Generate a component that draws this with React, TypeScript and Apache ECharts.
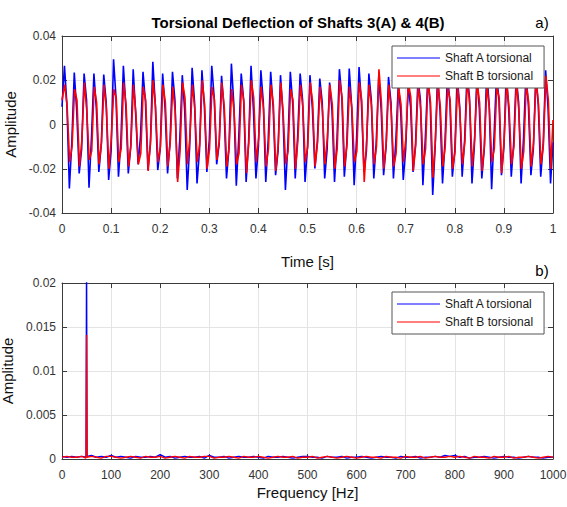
import React, { useEffect, useRef } from "react";
import * as echarts from "echarts";

const FONT = "'Liberation Sans', Arial, Helvetica, sans-serif";

// ---- Top panel: time signals (values read per 50 Hz cycle) ----
const timeStartA = 0.008;
const timeStartB = 0.011;
const peaksA = [0.0265, 0.0235, 0.023, 0.023, 0.0226, 0.0295, 0.0265, 0.025, 0.0238, 0.0283, 0.023, 0.0238, 0.0223,
  0.0256, 0.0245, 0.0265, 0.022, 0.0275, 0.023, 0.0265, 0.0245, 0.0238, 0.0223, 0.0238, 0.023,
  0.0223, 0.0208, 0.019, 0.025, 0.0253, 0.026, 0.023, 0.0215, 0.0215, 0.0185, 0.0177, 0.0208, 0.0215,
  0.0225, 0.023, 0.0215, 0.0235, 0.022, 0.024, 0.0225, 0.023, 0.0215, 0.0235, 0.022, 0.0245];
const downA = [0.009, 0.006, 0.011, 0.007, 0.01, 0.012, 0.008, 0.005, 0.01, 0.009, 0.007, 0.011, 0.006, 0.01, 0.008, 0.012, 0.007,
  0.009, 0.011, 0.006, 0.01, 0.008, 0.005, 0.009, 0.011, 0.007, 0.01, 0.006, 0.012, 0.008, 0.009, 0.011, 0.007, 0.01, 0.005,
  0.008, 0.011, 0.009, 0.006, 0.01, 0.008, 0.012, 0.007, 0.009, 0.011, 0.006, 0.01, 0.008, 0.009, 0.007];
const troughsA = [-0.0289, -0.0221, -0.0286, -0.0214, -0.0251, -0.0236, -0.0221, -0.018, -0.0206, -0.0206, -0.0221, -0.0244,
  -0.0296, -0.0266, -0.0214, -0.018, -0.0244, -0.0277, -0.026, -0.0244, -0.026, -0.0229, -0.0296, -0.0244, -0.026,
  -0.0199, -0.0244, -0.026, -0.0236, -0.0274, -0.0214, -0.0244, -0.0229, -0.0244, -0.0251, -0.0214, -0.0274, -0.0319,
  -0.0266, -0.0236, -0.0236, -0.0266, -0.0244, -0.0292, -0.0229, -0.0236, -0.0266, -0.0229, -0.0236, -0.0266];
const upA = [-0.008, -0.011, -0.006, -0.009, -0.012, -0.007, -0.01, -0.005, -0.009, -0.011, -0.008, -0.006, -0.01, -0.012, -0.007,
  -0.009, -0.011, -0.006, -0.008, -0.01, -0.007, -0.012, -0.009, -0.005, -0.01, -0.008, -0.011, -0.007, -0.009, -0.006, -0.012,
  -0.008, -0.01, -0.007, -0.011, -0.009, -0.006, -0.01, -0.008, -0.012, -0.007, -0.009, -0.011, -0.005, -0.01, -0.008, -0.006,
  -0.011, -0.009, -0.008];

const peaksB = [0.018, 0.016, 0.019, 0.017, 0.018, 0.016, 0.019, 0.018, 0.017, 0.02, 0.018, 0.017, 0.019, 0.018, 0.02, 0.017,
  0.019, 0.016, 0.018, 0.02, 0.017, 0.018, 0.019, 0.016, 0.018, 0.019, 0.017, 0.018, 0.02, 0.017, 0.019, 0.018, 0.025, 0.018,
  0.017, 0.019, 0.018, 0.02, 0.019, 0.017, 0.018, 0.02, 0.019, 0.018, 0.017, 0.019, 0.02, 0.018, 0.021, 0.022];
const downB = [0.008, 0.011, 0.006, 0.01, 0.007, 0.012, 0.009, 0.005, 0.011, 0.008, 0.01, 0.006, 0.012, 0.007, 0.009, 0.011,
  0.008, 0.006, 0.01, 0.012, 0.007, 0.009, 0.005, 0.011, 0.008, 0.01, 0.006, 0.009, 0.012, 0.007, 0.011, 0.008, 0.01, 0.006,
  0.009, 0.012, 0.007, 0.01, 0.008, 0.011, 0.005, 0.009, 0.01, 0.007, 0.012, 0.008, 0.006, 0.01, 0.009, 0.011];
const troughsB = [-0.017, -0.019, -0.016, -0.018, -0.02, -0.017, -0.019, -0.018, -0.021, -0.017, -0.019, -0.026, -0.018, -0.017,
  -0.02, -0.016, -0.019, -0.018, -0.022, -0.017, -0.019, -0.021, -0.018, -0.02, -0.017, -0.019, -0.018, -0.02, -0.019, -0.017,
  -0.026, -0.018, -0.02, -0.019, -0.017, -0.021, -0.018, -0.024, -0.019, -0.02, -0.018, -0.019, -0.021, -0.017, -0.022, -0.018,
  -0.02, -0.019, -0.018, -0.02];
const upB = [-0.01, -0.007, -0.012, -0.008, -0.006, -0.011, -0.009, -0.013, -0.007, -0.01, -0.008, -0.012, -0.006, -0.009, -0.011,
  -0.007, -0.01, -0.013, -0.008, -0.006, -0.011, -0.009, -0.012, -0.007, -0.01, -0.008, -0.006, -0.011, -0.009, -0.012, -0.007,
  -0.01, -0.008, -0.013, -0.006, -0.009, -0.011, -0.007, -0.01, -0.012, -0.008, -0.006, -0.009, -0.011, -0.007, -0.01, -0.012,
  -0.008, -0.009, 0.002];

// ---- Bottom panel: spectrum (0..1000 Hz every 10 Hz, plus 49/51 Hz around the 50 Hz line) ----
const fftA = [0.0003, 0.0002, 0.0003, 0.0002, 0.0003, 0.0002, 0.0232, 0.0003,
  0.0004, 0.0002, 0.0003, 0.0002, 0.0004, 0.0002, 0.0003, 0.0002, 0.0001, 0.0003, 0.0002, 0.0002, 0.0003, 0.0002,
  0.0005, 0.0002, 0.0003, 0.0001, 0.0002, 0.0003, 0.0002, 0.0002, 0.0003, 0.0001,
  0.0004, 0.0002, 0.0002, 0.0003, 0.0001, 0.0002, 0.0003, 0.0002, 0.0002, 0.0003,
  0.0002, 0.0001, 0.0003, 0.0002, 0.0002, 0.0003, 0.0002, 0.0001, 0.0002, 0.0003,
  0.0003, 0.0002, 0.0002, 0.0001, 0.0003, 0.0002, 0.0002, 0.0003, 0.0001, 0.0002,
  0.0002, 0.0003, 0.0002, 0.0001, 0.0002, 0.0003, 0.0002, 0.0002, 0.0001, 0.0003,
  0.0002, 0.0002, 0.0003, 0.0001, 0.0002, 0.0002, 0.0003, 0.0002, 0.0004, 0.0003,
  0.0004, 0.0002, 0.0003, 0.0001, 0.0002, 0.0002, 0.0003, 0.0002, 0.0001, 0.0002,
  0.0003, 0.0002, 0.0002, 0.0001, 0.0002, 0.0003, 0.0002, 0.0002, 0.0001, 0.0002, 0.0002];
const fftB = [0.0002, 0.0003, 0.0002, 0.0002, 0.0003, 0.0001, 0.0141, 0.0002,
  0.0003, 0.0002, 0.0001, 0.0003, 0.0003, 0.0002, 0.0001, 0.0002, 0.0003, 0.0002, 0.0001, 0.0003, 0.0002, 0.0002,
  0.0003, 0.0001, 0.0002, 0.0003, 0.0002, 0.0001, 0.0003, 0.0002, 0.0002, 0.0003,
  0.0003, 0.0001, 0.0002, 0.0002, 0.0003, 0.0002, 0.0001, 0.0003, 0.0002, 0.0002,
  0.0003, 0.0002, 0.0001, 0.0002, 0.0003, 0.0002, 0.0002, 0.0003, 0.0001, 0.0002,
  0.0002, 0.0003, 0.0001, 0.0002, 0.0003, 0.0002, 0.0001, 0.0002, 0.0003, 0.0002,
  0.0001, 0.0002, 0.0003, 0.0002, 0.0002, 0.0001, 0.0003, 0.0002, 0.0002, 0.0001,
  0.0003, 0.0002, 0.0002, 0.0003, 0.0001, 0.0002, 0.0003, 0.0002, 0.0002, 0.0003,
  0.0002, 0.0003, 0.0002, 0.0001, 0.0003, 0.0002, 0.0002, 0.0001, 0.0003, 0.0002,
  0.0002, 0.0003, 0.0001, 0.0002, 0.0002, 0.0003, 0.0002, 0.0001, 0.0002, 0.0003, 0.0002];

const seriesNames = ["Shaft A torsional", "Shaft B torsional"];

function buildTime(start: number, peaks: number[], downs: number[], troughs: number[], ups: number[], shift: number) {
  const pts: number[][] = [[0, start]];
  for (let k = 0; k < peaks.length; k++) {
    const t0 = 0.02 * k + shift;
    pts.push([+(t0 + 0.005).toFixed(5), peaks[k]]);
    pts.push([+(t0 + 0.01).toFixed(5), downs[k]]);
    pts.push([+(t0 + 0.015).toFixed(5), troughs[k]]);
    pts.push([+Math.min(1, t0 + 0.02).toFixed(5), ups[k]]);
  }
  return pts;
}

function buildFreq(): number[] {
  const f: number[] = [];
  for (let i = 0; i <= 100; i++) {
    const v = i * 10;
    if (v === 50) f.push(49, 50, 51);
    else f.push(v);
  }
  return f;
}

const AXIS_COLOR = "#3a3a3a";
const GRID_COLOR = "#e4e4e4";

function mainX(grid: number, max: number, interval: number) {
  return {
    gridIndex: grid, type: "value", min: 0, max, interval, position: "bottom",
    axisLine: { show: true, onZero: false, lineStyle: { color: AXIS_COLOR, width: 1 } },
    axisTick: { show: true, inside: true, length: 5, lineStyle: { color: AXIS_COLOR } },
    axisLabel: { color: "#333", fontSize: 12, fontFamily: FONT, margin: 10, showMaxLabel: true, showMinLabel: true,
      formatter: (v: number) => String(+v.toFixed(6)) },
    splitLine: { show: true, lineStyle: { color: GRID_COLOR, width: 1 } },
  };
}
function mirrorX(grid: number, max: number, interval: number) {
  return {
    gridIndex: grid, type: "value", min: 0, max, interval, position: "top",
    axisLine: { show: true, onZero: false, lineStyle: { color: AXIS_COLOR, width: 1 } },
    axisTick: { show: true, inside: true, length: 5, lineStyle: { color: AXIS_COLOR } },
    axisLabel: { show: false }, splitLine: { show: false },
  };
}
function mainY(grid: number, min: number, max: number, interval: number) {
  return {
    gridIndex: grid, type: "value", min, max, interval, position: "left",
    axisLine: { show: true, onZero: false, lineStyle: { color: AXIS_COLOR, width: 1 } },
    axisTick: { show: true, inside: true, length: 5, lineStyle: { color: AXIS_COLOR } },
    axisLabel: { color: "#333", fontSize: 12, fontFamily: FONT, margin: 6, formatter: (v: number) => String(+v.toFixed(6)) },
    splitLine: { show: true, lineStyle: { color: GRID_COLOR, width: 1 } },
    name: "Amplitude", nameLocation: "middle", nameGap: 40, nameRotate: 90,
    nameTextStyle: { fontSize: 15, fontFamily: FONT, color: "#111" },
  };
}
function mirrorY(grid: number, min: number, max: number, interval: number) {
  return {
    gridIndex: grid, type: "value", min, max, interval, position: "right",
    axisLine: { show: true, onZero: false, lineStyle: { color: AXIS_COLOR, width: 1 } },
    axisTick: { show: true, inside: true, length: 5, lineStyle: { color: AXIS_COLOR } },
    axisLabel: { show: false }, splitLine: { show: false },
  };
}

function legendAt(top: number) {
  return {
    orient: "vertical", left: 392, top, itemWidth: 43, itemHeight: 1.2, itemGap: 4, icon: "rect",
    padding: [5, 11, 5, 5], borderColor: "#555", borderWidth: 1, backgroundColor: "#fff",
    textStyle: { fontSize: 12, color: "#1a1a1a", fontFamily: FONT, lineHeight: 14 },
    data: seriesNames, selectedMode: false,
  };
}

export default function App() {
  const ref = useRef<HTMLDivElement>(null);
  useEffect(() => {
    if (!ref.current) return;
    const chart = echarts.init(ref.current, undefined, { renderer: "svg" });
    const freq = buildFreq();
    const fA = freq.map((f, i) => [f, fftA[i]]);
    const fB = freq.map((f, i) => [f, fftB[i]]);
    const tA = buildTime(timeStartA, peaksA, downA, troughsA, upA, 0);
    const tB = buildTime(timeStartB, peaksB, downB, troughsB, upB, 0.0005);

    const xTime = mainX(0, 1, 0.1) as any;
    xTime.name = "Time [s]"; xTime.nameLocation = "middle"; xTime.nameGap = 41;
    xTime.nameTextStyle = { fontSize: 15, fontFamily: FONT, color: "#111" };
    const xFreq = mainX(1, 1000, 100) as any;
    xFreq.name = "Frequency [Hz]"; xFreq.nameLocation = "middle"; xFreq.nameGap = 26;
    xFreq.nameTextStyle = { fontSize: 15, fontFamily: FONT, color: "#111" };

    const line = (name: string, color: string, xi: number, yi: number, data: number[][], w: number) => ({
      type: "line", name, xAxisIndex: xi, yAxisIndex: yi, data, symbol: "none", showSymbol: false,
      clip: true, lineStyle: { color, width: w }, itemStyle: { color }, emphasis: { disabled: true },
    });

    chart.setOption({
      animation: false,
      backgroundColor: "#ffffff",
      grid: [
        { left: 62, top: 36, width: 491, height: 177, outerBoundsMode: "none", containLabel: false },
        { left: 62, top: 283, width: 491, height: 176, outerBoundsMode: "none", containLabel: false },
      ],
      xAxis: [xTime, mirrorX(0, 1, 0.1), xFreq, mirrorX(1, 1000, 100)],
      yAxis: [mainY(0, -0.04, 0.04, 0.02), mirrorY(0, -0.04, 0.04, 0.02), mainY(1, 0, 0.02, 0.005), mirrorY(1, 0, 0.02, 0.005)],
      legend: [legendAt(46), legendAt(292)],
      series: [
        line(seriesNames[0], "#0000ff", 0, 0, tA, 1.6),
        line(seriesNames[1], "#ff0000", 0, 0, tB, 1.6),
        line(seriesNames[0], "#0000ff", 2, 2, fA, 1.4),
        line(seriesNames[1], "#ff0000", 2, 2, fB, 1.4),
      ],
      graphic: [
        { type: "text", x: 298, y: 22, style: { text: "Torsional Deflection of Shafts 3(A) & 4(B)", font: `bold 15px ${FONT}`, fill: "#000", align: "center", verticalAlign: "middle" } },
        { type: "text", x: 542, y: 22, style: { text: "a)", font: `15px ${FONT}`, fill: "#000", align: "center", verticalAlign: "middle" } },
        { type: "text", x: 542, y: 270, style: { text: "b)", font: `15px ${FONT}`, fill: "#000", align: "center", verticalAlign: "middle" } },
      ],
    });
    return () => chart.dispose();
  }, []);
  return <div ref={ref} style={{ width: 567, height: 507, position: "absolute", left: 0, top: 0 }} />;
}
